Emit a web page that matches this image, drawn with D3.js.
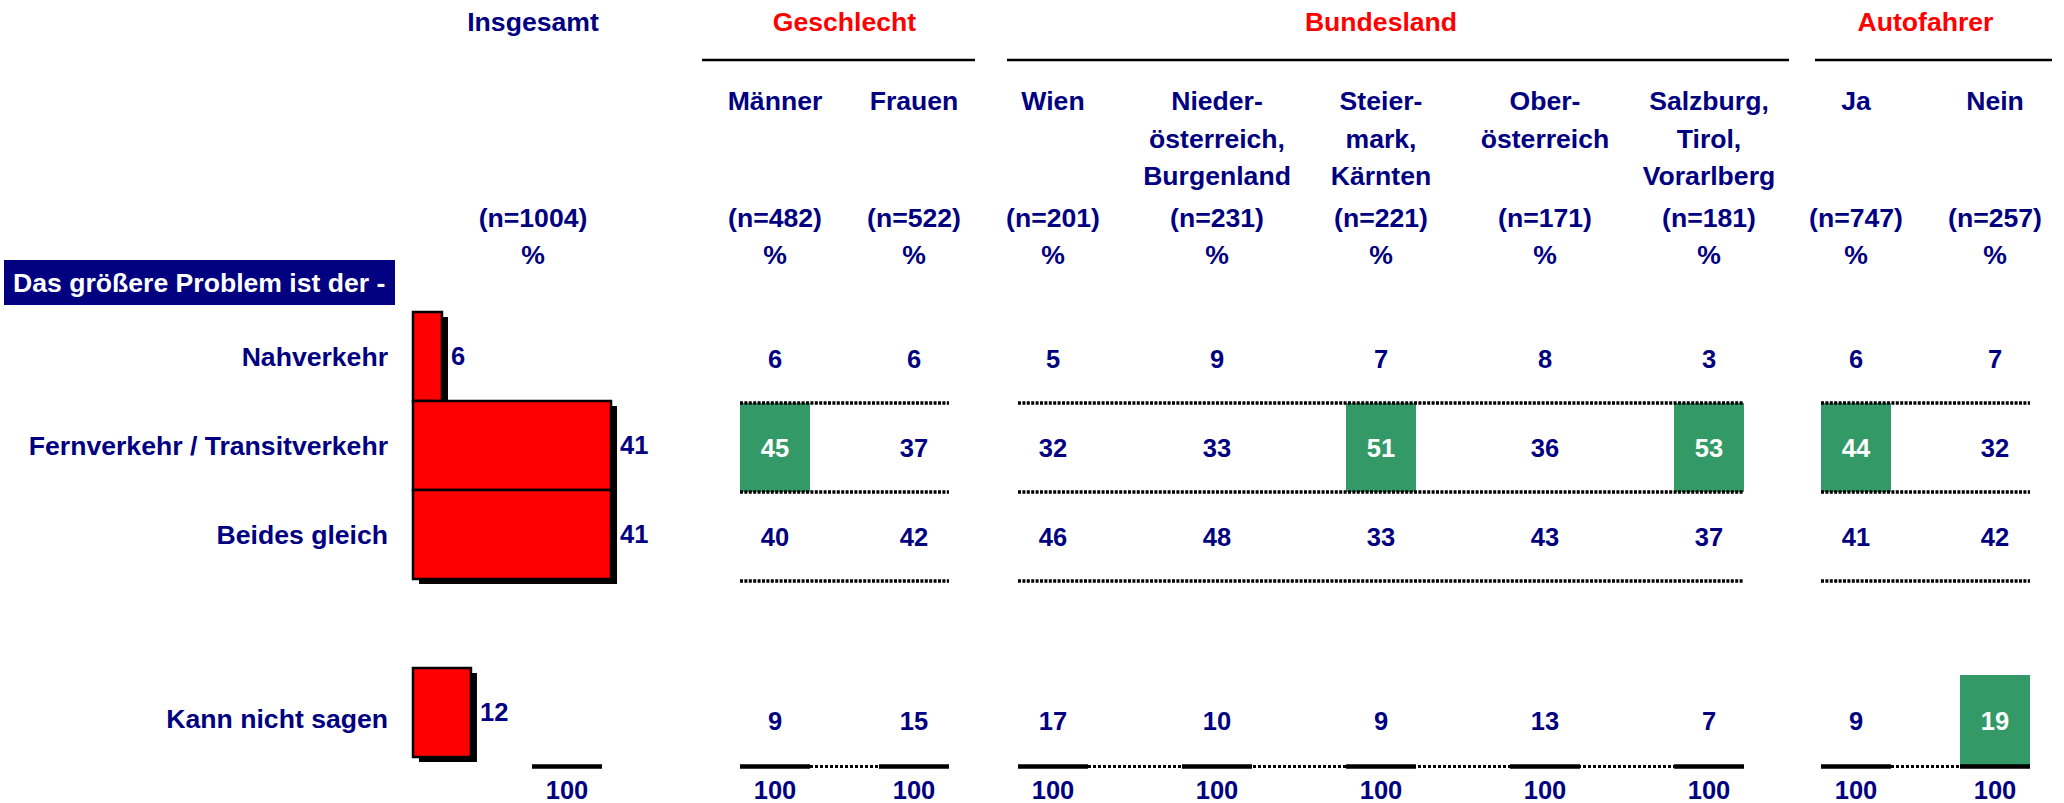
<!DOCTYPE html>
<html>
<head>
<meta charset="utf-8">
<style>
  body { margin: 0; background: #fff; }
  text { font-family: "Liberation Sans", Arial, sans-serif; font-weight: bold; }
</style>
</head>
<body>
<div id="container"></div>
<script src="https://d3js.org/d3.v7.min.js"></script>
<script>
// ---- data ----
let rows = ["Nahverkehr", "Fernverkehr / Transitverkehr", "Beides gleich", "Kann nicht sagen"];
let totalValues = [6, 41, 41, 12];
let totalN = 1004;

let groups = ["Geschlecht", "Bundesland", "Autofahrer"];
let colLabels = [["Männer"], ["Frauen"], ["Wien"], ["Nieder-", "österreich,", "Burgenland"],
                 ["Steier-", "mark,", "Kärnten"], ["Ober-", "österreich"],
                 ["Salzburg,", "Tirol,", "Vorarlberg"], ["Ja"], ["Nein"]];
let colGroup = [0, 0, 1, 1, 1, 1, 1, 2, 2];
let sampleSizes = [482, 522, 201, 231, 221, 171, 181, 747, 257];

let nahValues    = [6, 6, 5, 9, 7, 8, 3, 6, 7];
let fernValues   = [45, 37, 32, 33, 51, 36, 53, 44, 32];
let beidesValues = [40, 42, 46, 48, 33, 43, 37, 41, 42];
let kannValues   = [9, 15, 17, 10, 9, 13, 7, 9, 19];
let colTotals    = [100, 100, 100, 100, 100, 100, 100, 100, 100];
let totalSum = 100;

// significantly higher cells (row index, column index)
let highlights = [[1, 0], [1, 4], [1, 6], [1, 7], [3, 8]];

let questionText = "Das größere Problem ist der -";

// ---- layout ----
const W = 2064, H = 803;
const navy = "#000080", red = "#ff0000", green = "#339966";
const labelSize = 26.6, numSize = 25.5;
const colStep = [0, 139, 139, 164, 164, 164, 164, 147, 139];   // spacing between column centres
const firstCol = 775, cellW = 70;
const insTitleX = 533, insTotalX = 567;

let centers = [];
colStep.reduce((acc, s, i) => { centers[i] = acc + s; return acc + s; }, firstCol);
const x = d3.scaleOrdinal().domain(d3.range(colLabels.length)).range(centers);

// horizontal bar scale for "Insgesamt"
const xBar = d3.scaleLinear().domain([0, 100]).range([413, 896]);

// rows: three rows, one spacer slot, then "Kann nicht sagen"
const rowKeys = ["r0", "r1", "r2", "gap", "r3"];
const yBand = d3.scaleBand().domain(rowKeys).range([312, 312 + 89 * 5]);
const rowKey = i => i < 3 ? rowKeys[i] : "r3";
const ruleY = 766.5;
const cellTop = i => yBand(rowKey(i)) + (i < 3 ? 2 : 7);
const cellBottom = i => i < 3 ? cellTop(i) + yBand.bandwidth() : ruleY;
const cellMid = i => (cellTop(i) + cellBottom(i)) / 2;

const svg = d3.select("#container").append("svg").attr("width", W).attr("height", H);

// ---- header ----
svg.append("text").attr("x", insTitleX).attr("y", 31).attr("text-anchor", "middle")
  .attr("font-size", labelSize).attr("fill", navy).text("Insgesamt");

let groupCols = groups.map((g, gi) => d3.range(colLabels.length).filter(c => colGroup[c] === gi));
let ruleExt = [[-73, 61], [-46, 80], [-41, 57]];   // rule overhang per group

groups.forEach((g, gi) => {
  let cs = groupCols[gi];
  let a = x(cs[0]), b = x(cs[cs.length - 1]);
  svg.append("text").attr("x", (a + b) / 2).attr("y", 31).attr("text-anchor", "middle")
    .attr("font-size", labelSize).attr("fill", red).text(g);
  svg.append("line").attr("x1", a + ruleExt[gi][0]).attr("x2", b + ruleExt[gi][1])
    .attr("y1", 60).attr("y2", 60).attr("stroke", "#000").attr("stroke-width", 2.5);
});

const labelG = svg.append("g");
colLabels.forEach((lines, c) => {
  lines.forEach((ln, k) => {
    labelG.append("text").attr("x", x(c)).attr("y", 110 + k * 37.5).attr("text-anchor", "middle")
      .attr("font-size", labelSize).attr("fill", navy).text(ln);
  });
});

let nX = [insTitleX].concat(centers);
let nText = [totalN].concat(sampleSizes);
svg.selectAll(".nlab").data(nText).join("text").attr("class", "nlab")
  .attr("x", (d, i) => nX[i]).attr("y", 227).attr("text-anchor", "middle")
  .attr("font-size", labelSize).attr("fill", navy).text(d => "(n=" + d + ")");
svg.selectAll(".pct").data(nText).join("text").attr("class", "pct")
  .attr("x", (d, i) => nX[i]).attr("y", 264).attr("text-anchor", "middle")
  .attr("font-size", labelSize).attr("fill", navy).text("%");

// question box
svg.append("rect").attr("x", 4).attr("y", 260).attr("width", 391).attr("height", 45).attr("fill", navy);
svg.append("text").attr("x", 13).attr("y", 291.5).attr("font-size", labelSize).attr("fill", "#fff").text(questionText);

// row labels
svg.selectAll(".rowlab").data(rows).join("text").attr("class", "rowlab")
  .attr("x", 388).attr("y", (d, i) => cellMid(i) - 2).attr("dy", "0.36em").attr("text-anchor", "end")
  .attr("font-size", labelSize).attr("fill", navy).text(d => d);

// ---- Insgesamt bars ----
const barG = svg.append("g");
barG.selectAll(".shadow").data(totalValues).join("rect").attr("class", "shadow")
  .attr("x", xBar(0) + 6).attr("y", (d, i) => yBand(rowKey(i)) + 5)
  .attr("width", d => xBar(d) - xBar(0)).attr("height", yBand.bandwidth())
  .attr("fill", "#000");
barG.selectAll(".bar").data(totalValues).join("rect").attr("class", "bar")
  .attr("x", xBar(0)).attr("y", (d, i) => yBand(rowKey(i)))
  .attr("width", d => xBar(d) - xBar(0)).attr("height", yBand.bandwidth())
  .attr("fill", red).attr("stroke", "#000").attr("stroke-width", 2.5);
barG.selectAll(".barlab").data(totalValues).join("text").attr("class", "barlab")
  .attr("x", d => xBar(d) + 9).attr("y", (d, i) => yBand(rowKey(i)) + yBand.bandwidth() / 2 - 1)
  .attr("dy", "0.36em").attr("font-size", numSize).attr("fill", navy).text(d => d);

// ---- table lines ----
const lineG = svg.append("g");
groups.forEach((g, gi) => {
  let cs = groupCols[gi];
  let a = x(cs[0]) - cellW / 2, b = x(cs[cs.length - 1]) + cellW / 2;
  [cellTop(1), cellBottom(1), cellBottom(2)].forEach(yy => {
    lineG.append("line").attr("x1", a).attr("x2", b).attr("y1", yy).attr("y2", yy)
      .attr("stroke", "#000").attr("stroke-width", 3.5).attr("stroke-dasharray", "3,1.4");
  });
  lineG.append("line").attr("x1", a).attr("x2", b).attr("y1", ruleY).attr("y2", ruleY)
    .attr("stroke", "#000").attr("stroke-width", 3).attr("stroke-dasharray", "3,2");
});

// highlight cells
const cellG = svg.append("g");
cellG.selectAll(".hl").data(highlights).join("rect").attr("class", "hl")
  .attr("x", d => x(d[1]) - cellW / 2).attr("y", d => cellTop(d[0]))
  .attr("width", cellW).attr("height", d => cellBottom(d[0]) - cellTop(d[0]))
  .attr("fill", green);

// bottom solid rules
lineG.raise();
svg.selectAll(".total-rule").data([totalSum].concat(colTotals)).join("line").attr("class", "total-rule")
  .attr("x1", (d, i) => (i === 0 ? insTotalX : x(i - 1)) - cellW / 2)
  .attr("x2", (d, i) => (i === 0 ? insTotalX : x(i - 1)) + cellW / 2)
  .attr("y1", ruleY).attr("y2", ruleY).attr("stroke", "#000").attr("stroke-width", 4.5);
svg.selectAll(".total-lab").data([totalSum].concat(colTotals)).join("text").attr("class", "total-lab")
  .attr("x", (d, i) => i === 0 ? insTotalX : x(i - 1)).attr("y", 799).attr("text-anchor", "middle")
  .attr("font-size", numSize).attr("fill", navy).text(d => d);

// cell values
let tableValues = [nahValues, fernValues, beidesValues, kannValues];
let isHl = (r, c) => highlights.some(h => h[0] === r && h[1] === c);
tableValues.forEach((vals, r) => {
  cellG.selectAll(".v" + r).data(vals).join("text").attr("class", "v" + r)
    .attr("x", (d, c) => x(c)).attr("y", cellMid(r)).attr("dy", "0.36em")
    .attr("text-anchor", "middle").attr("font-size", numSize)
    .attr("fill", (d, c) => isHl(r, c) ? "#fff" : navy).text(d => d);
});
</script>
</body>
</html>
